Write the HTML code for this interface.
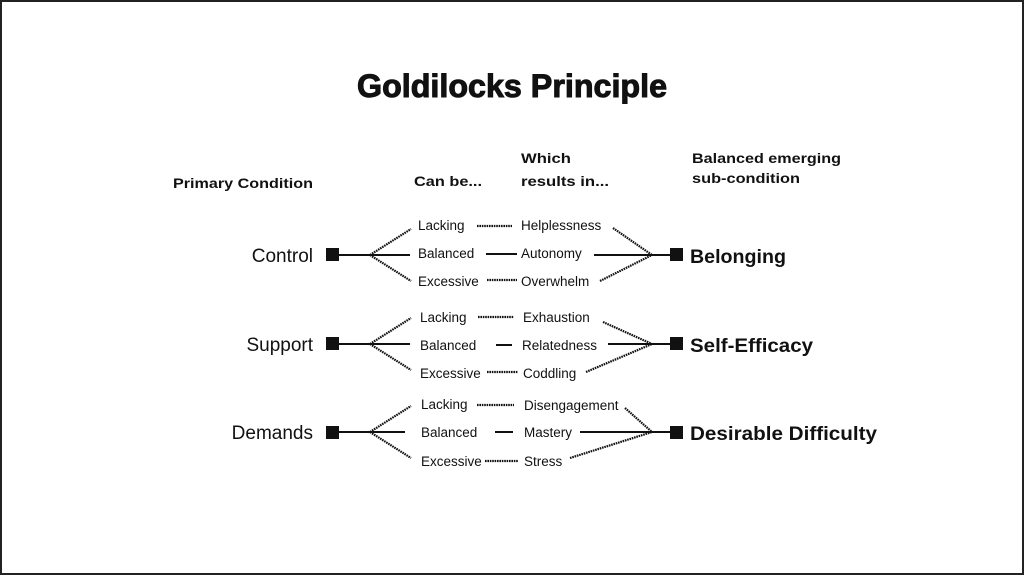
<!DOCTYPE html>
<html><head><meta charset="utf-8"><style>
html,body{margin:0;padding:0;background:#fff}
svg{display:block}
text{font-family:"Liberation Sans",sans-serif;fill:#111}
.h{font-weight:bold;font-size:14px}
.s{font-size:13.5px}
.m{font-size:19px}
.b{font-size:19px;font-weight:bold}
</style></head><body>
<svg width="1024" height="575" viewBox="0 0 1024 575" xmlns="http://www.w3.org/2000/svg">
<rect x="1" y="1" width="1022" height="573" fill="#fff" stroke="#222" stroke-width="2"/>
<text x="357" y="97" font-size="32" font-weight="bold" stroke="#111" stroke-width="1" textLength="310" lengthAdjust="spacingAndGlyphs">Goldilocks Principle</text>
<text class="h" x="173" y="188" textLength="140" lengthAdjust="spacingAndGlyphs">Primary Condition</text>
<text class="h" x="414" y="186" textLength="68" lengthAdjust="spacingAndGlyphs">Can be...</text>
<text class="h" x="521" y="163" textLength="50" lengthAdjust="spacingAndGlyphs">Which</text>
<text class="h" x="521" y="186" textLength="88" lengthAdjust="spacingAndGlyphs">results in...</text>
<text class="h" x="692" y="163" textLength="149" lengthAdjust="spacingAndGlyphs">Balanced emerging</text>
<text class="h" x="692" y="183" textLength="108" lengthAdjust="spacingAndGlyphs">sub-condition</text>

<g stroke="#111" fill="none">
<g stroke-width="2.2" stroke-dasharray="1.6 0.8">
<line x1="370" y1="255" x2="411" y2="229"/>
<line x1="370" y1="255" x2="411" y2="281"/>
<line x1="477" y1="226" x2="512" y2="226"/>
<line x1="487" y1="280" x2="517" y2="280"/>
<line x1="613" y1="228" x2="652" y2="255"/>
<line x1="600" y1="281" x2="652" y2="255"/>
<line x1="370" y1="344" x2="411" y2="318"/>
<line x1="370" y1="344" x2="411" y2="370"/>
<line x1="478" y1="317" x2="514" y2="317"/>
<line x1="487" y1="372" x2="518" y2="372"/>
<line x1="603" y1="322" x2="652" y2="344"/>
<line x1="586" y1="372" x2="652" y2="344"/>
<line x1="370" y1="432" x2="411" y2="406"/>
<line x1="370" y1="432" x2="411" y2="458"/>
<line x1="477" y1="405" x2="514" y2="405"/>
<line x1="485" y1="461" x2="518" y2="461"/>
<line x1="625" y1="408" x2="652" y2="432"/>
<line x1="570" y1="458" x2="652" y2="432"/>
</g>
<g stroke-width="2">
<line x1="339" y1="255" x2="410" y2="255"/>
<line x1="486" y1="254" x2="517" y2="254"/>
<line x1="594" y1="255" x2="670" y2="255"/>
<line x1="339" y1="344" x2="410" y2="344"/>
<line x1="496" y1="345" x2="512" y2="345"/>
<line x1="608" y1="344" x2="670" y2="344"/>
<line x1="339" y1="432" x2="405" y2="432"/>
<line x1="495" y1="432" x2="513" y2="432"/>
<line x1="580" y1="432" x2="670" y2="432"/>
</g>
</g>
<g fill="#111">
<rect x="326" y="248" width="13" height="13"/><rect x="670" y="248" width="13" height="13"/>
<rect x="326" y="337" width="13" height="13"/><rect x="670" y="337" width="13" height="13"/>
<rect x="326" y="426" width="13" height="13"/><rect x="670" y="426" width="13" height="13"/>
</g>
<text class="m" x="313" y="262" text-anchor="end">Control</text>
<text class="m" x="313" y="351" text-anchor="end">Support</text>
<text class="m" x="313" y="439" text-anchor="end">Demands</text>
<text class="b" x="690" y="263" textLength="96" lengthAdjust="spacingAndGlyphs">Belonging</text>
<text class="b" x="690" y="352" textLength="123" lengthAdjust="spacingAndGlyphs">Self-Efficacy</text>
<text class="b" x="690" y="440" textLength="187" lengthAdjust="spacingAndGlyphs">Desirable Difficulty</text>

<text class="s" x="418" y="230">Lacking</text>
<text class="s" x="418" y="258">Balanced</text>
<text class="s" x="418" y="286">Excessive</text>
<text class="s" x="521" y="230">Helplessness</text>
<text class="s" x="521" y="258">Autonomy</text>
<text class="s" x="521" y="286">Overwhelm</text>

<text class="s" x="420" y="322">Lacking</text>
<text class="s" x="420" y="350">Balanced</text>
<text class="s" x="420" y="378">Excessive</text>
<text class="s" x="523" y="322">Exhaustion</text>
<text class="s" x="522" y="350">Relatedness</text>
<text class="s" x="523" y="378">Coddling</text>

<text class="s" x="421" y="409">Lacking</text>
<text class="s" x="421" y="437">Balanced</text>
<text class="s" x="421" y="466">Excessive</text>
<text class="s" x="524" y="410">Disengagement</text>
<text class="s" x="524" y="437">Mastery</text>
<text class="s" x="524" y="466">Stress</text>
</svg>
</body></html>
